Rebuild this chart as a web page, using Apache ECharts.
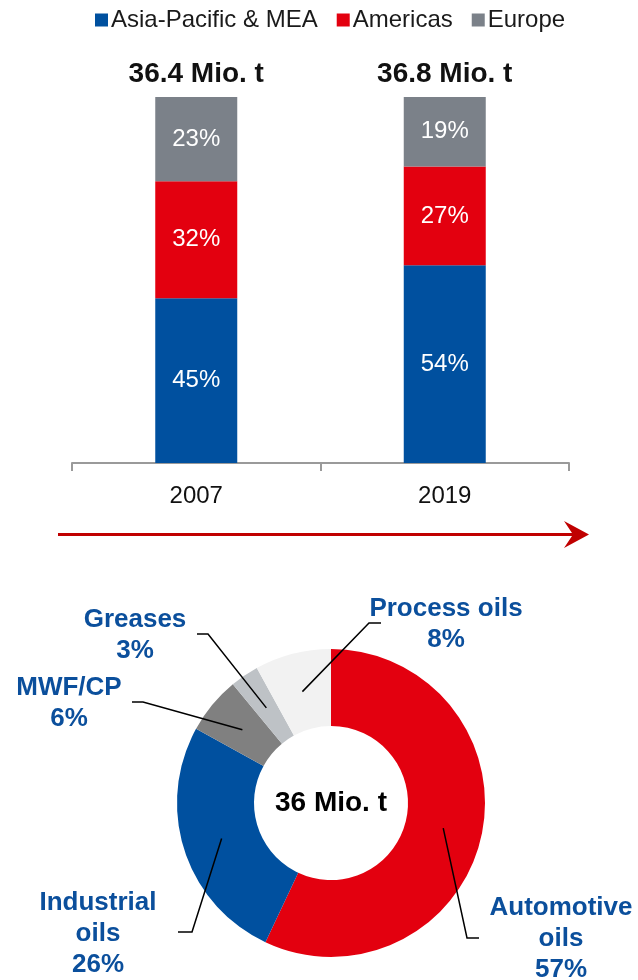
<!DOCTYPE html>
<html>
<head>
<meta charset="utf-8">
<script src="https://cdn.jsdelivr.net/npm/echarts@6/dist/echarts.min.js"></script>
<style>
  html, body { margin: 0; padding: 0; background: #fff; }
  #chart { width: 638px; height: 980px; }
</style>
</head>
<body>
<div id="chart"></div>
<script>
// Regional split of lubricant demand (share of total, %)
const years = ['2007', '2019'];
const regions = ['Asia-Pacific & MEA', 'Americas', 'Europe'];
const asiaPacificMea = [45, 54];
const americas = [32, 27];
const europe = [23, 19];
const yearTotals = ['36.4 Mio. t', '36.8 Mio. t'];

// Split of demand by product group (share of total, %)
const products = ['Automotive\noils', 'Industrial\noils', 'MWF/CP', 'Greases', 'Process oils'];
const productShares = [57, 26, 6, 3, 8];
const marketTotal = '36 Mio. t';

// ---- styling ----
const FONT = "'Liberation Sans', Arial, Helvetica, sans-serif";
const BLUE = '#00509F';
const RED = '#E3000F';
const GREY = '#7B8189';
const LABEL_BLUE = '#0B4F9C';
const productColors = ['#E3000F', '#00509F', '#808080', '#BEC2C6', '#F2F2F2'];

// donut geometry
const PIE_CX = 331, PIE_CY = 803, PIE_R0 = 77, PIE_R1 = 154;
const LEADER_R = 115; // leader lines start inside the ring

// label anchor plus elbow and end of each leader line
const labelSpots = [
  { x: 561, y: 939, elbow: [467, 938], end: [479, 938] },
  { x: 98,  y: 934, elbow: [192, 932], end: [178, 932] },
  { x: 69,  y: 703, elbow: [143, 702], end: [132, 702] },
  { x: 135, y: 635, elbow: [208, 634], end: [197, 634] },
  { x: 446, y: 624, elbow: [369, 623], end: [381, 623] }
];

const shareSum = productShares.reduce((a, b) => a + b, 0);
function leaderStart(i) {
  let before = 0;
  for (let k = 0; k < i; k++) before += productShares[k];
  const mid = (before + productShares[i] / 2) / shareSum * Math.PI * 2;
  return [PIE_CX + LEADER_R * Math.sin(mid), PIE_CY - LEADER_R * Math.cos(mid)];
}

function regionBar(name, data, color) {
  return {
    name: name,
    type: 'bar',
    stack: 'share',
    data: data,
    barWidth: 82,
    itemStyle: { color: color },
    label: {
      show: true,
      position: 'inside',
      color: '#fff',
      fontFamily: FONT,
      fontSize: 24,
      formatter: '{c}%'
    },
    emphasis: { disabled: true }
  };
}

const pieBase = {
  type: 'pie',
  center: [PIE_CX, PIE_CY],
  radius: [PIE_R0, PIE_R1],
  startAngle: 90,
  clockwise: true,
  avoidLabelOverlap: false,
  silent: true,
  emphasis: { disabled: true }
};

const chart = echarts.init(document.getElementById('chart'), null, { renderer: 'canvas' });

chart.setOption({
  animation: false,
  backgroundColor: '#fff',
  legend: {
    data: regions,
    top: 3,
    left: 90,
    icon: 'rect',
    itemWidth: 13,
    itemHeight: 13,
    itemGap: 19,
    selectedMode: false,
    textStyle: { fontFamily: FONT, fontSize: 24, color: '#1a1a1a', padding: [0, 0, 0, -2] }
  },
  grid: { left: 72, right: 69, top: 97, bottom: 517 },
  xAxis: {
    type: 'category',
    data: years,
    axisLine: { lineStyle: { color: '#9a9a9a', width: 2 } },
    axisTick: { show: true, length: 8, lineStyle: { color: '#9a9a9a', width: 2 } },
    axisLabel: { fontFamily: FONT, fontSize: 24, color: '#111', margin: 21 }
  },
  yAxis: { type: 'value', min: 0, max: 100, show: false },
  series: [
    regionBar(regions[0], asiaPacificMea, BLUE),
    regionBar(regions[1], americas, RED),
    regionBar(regions[2], europe, GREY),
    {
      // zero-height cap carrying the yearly total above each column
      name: 'Total',
      type: 'bar',
      stack: 'share',
      data: years.map(() => 0),
      barWidth: 82,
      itemStyle: { color: 'transparent' },
      label: {
        show: true,
        position: 'top',
        distance: 9,
        fontFamily: FONT,
        fontSize: 28,
        fontWeight: 'bold',
        color: '#111',
        formatter: p => yearTotals[p.dataIndex]
      },
      emphasis: { disabled: true }
    },
    Object.assign({}, pieBase, {
      z: 2,
      data: products.map((name, i) => ({
        name: name,
        value: productShares[i],
        itemStyle: { color: productColors[i] }
      })),
      label: { show: false },
      labelLine: { show: false }
    }),
    // same donut, unpainted, on top: carries the labels and leader lines
    Object.assign({}, pieBase, {
      z: 5,
      data: products.map((name, i) => ({
        name: name,
        value: productShares[i],
        itemStyle: { color: 'rgba(0,0,0,0)' }
      })),
      label: {
        show: true,
        position: 'outside',
        fontFamily: FONT,
        fontSize: 26,
        fontWeight: 'bold',
        lineHeight: 31,
        color: LABEL_BLUE,
        align: 'center',
        formatter: p => p.name + '\n' + p.value + '%'
      },
      labelLine: {
        show: true,
        length: 10,
        length2: 10,
        lineStyle: { color: '#000', width: 1.5 }
      },
      labelLayout: p => {
        const spot = labelSpots[p.dataIndex];
        return {
          x: spot.x,
          y: spot.y,
          align: 'center',
          verticalAlign: 'middle',
          labelLinePoints: [leaderStart(p.dataIndex), spot.elbow, spot.end]
        };
      }
    })
  ],
  graphic: [
    {
      type: 'line',
      shape: { x1: 58, y1: 534.5, x2: 576, y2: 534.5 },
      style: { stroke: '#C00000', lineWidth: 3 }
    },
    {
      type: 'polygon',
      shape: { points: [[589, 534.5], [564, 521], [573, 534.5], [564, 548]] },
      style: { fill: '#C00000' }
    },
    {
      type: 'text',
      x: PIE_CX,
      y: PIE_CY,
      z: 10,
      style: {
        text: marketTotal,
        align: 'center',
        verticalAlign: 'middle',
        fontFamily: FONT,
        fontSize: 28,
        fontWeight: 'bold',
        fill: '#000'
      }
    }
  ]
});
</script>
</body>
</html>
